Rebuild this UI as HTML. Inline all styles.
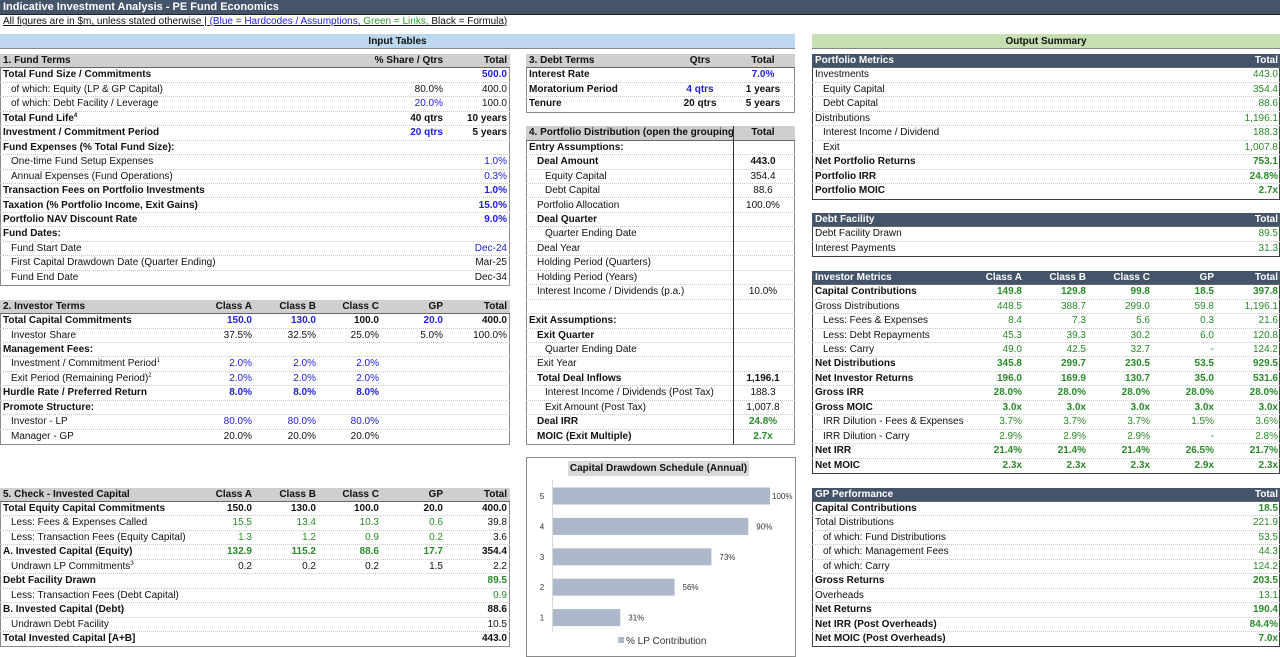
<!DOCTYPE html>
<html><head><meta charset="utf-8">
<style>
*{box-sizing:border-box;margin:0;padding:0}
body{width:1280px;height:648px;overflow:hidden;background:#fff;font-family:"Liberation Sans",sans-serif;font-size:10px;color:#111;position:relative}
.abs{position:absolute}
.cell{position:absolute;white-space:nowrap;line-height:14px;height:14px}
.row{position:absolute;border-bottom:1px dotted #c8c8c8}
.box{position:absolute}
.gray{border:1.5px solid #8a8a8a}
.dark{border:1px solid #404040}
sup{font-size:6px;vertical-align:top;line-height:8px}
</style></head>
<body>
<div class="abs" style="left:0;top:0;width:1280px;height:15px;background:#44546a;border-bottom:1px solid #222;color:#fff;font-weight:bold;font-size:11px;line-height:14px;padding-left:3px">Indicative Investment Analysis - PE Fund Economics</div>
<div class="abs" style="left:3px;top:15px;height:14px;line-height:14px;font-size:10px;text-decoration:underline;white-space:nowrap">All figures are in $m, unless stated otherwise | <span style="color:#2222dd">(Blue = Hardcodes / Assumptions,</span> <span style="color:#2a9a2a">Green = Links,</span> Black = Formula)</div>
<div class="abs" style="left:0;top:34px;width:795px;height:15px;background:#bdd7ee;border-bottom:1px solid #888;text-align:center;font-weight:bold;line-height:15px">Input Tables</div>
<div class="abs" style="left:812px;top:34px;width:468px;height:15px;background:#c6e0b4;border-bottom:1px solid #888;text-align:center;font-weight:bold;line-height:15px">Output Summary</div>

<div class="box gray" style="left:526px;top:457px;width:270px;height:200px"></div>
<div class="abs" style="left:568px;top:461px;width:181px;height:15px;background:#d9d9d9;font-weight:bold;text-align:center;line-height:15px">Capital Drawdown Schedule (Annual)</div>
<svg id="chart" class="abs" style="left:526px;top:476px" width="269" height="172"></svg>

<script>
const drawCategories=['5','4','3','2','1'];
const drawValues=[100,90,73,56,31];
const drawLabels=['100%','90%','73%','56%','31%'];

const R0=54,RH=14.45;
function rt(r){return R0+RH*r;}
const COL={b:'#2020dd',g:'#2a8a2a',k:'#111'};

function slug(s){return s.replace(/<[^>]*>/g,'').toLowerCase().replace(/[^a-z0-9]+/g,'-').replace(/^-|-$/g,'');}

function table(t){
  const box=document.createElement('div');
  box.className='box '+(t.dark?'dark':'gray');
  
  
  const nrows=t.rows.length+(t.rowStart-t.hr);
  box.style.cssText='left:'+t.x0+'px;top:'+rt(t.hr)+'px;width:'+(t.x1-t.x0)+'px;height:'+(RH*nrows+1)+'px';
  document.body.appendChild(box);
  const hd=document.createElement('div');
  hd.className='abs';
  
  
  hd.style.cssText='left:'+t.x0+'px;top:'+rt(t.hr)+'px;width:'+(t.x1-t.x0)+'px;height:'+RH+'px;background:'+(t.dark?'#44546a':'#d0cece')+';border-bottom:1px solid #666';
  document.body.appendChild(hd);
  const hl=document.createElement('div');
  hl.className='cell';
  
  
  hl.style.cssText='left:'+(t.x0+3)+'px;top:'+rt(t.hr)+'px;font-weight:bold;color:'+(t.dark?'#fff':'#111');
  hl.textContent=t.head[0];
  document.body.appendChild(hl);
  t.cols.forEach((c,i)=>{
    const h=document.createElement('div');
    h.className='cell';
    
    
    h.style.cssText=pos(c)+'top:'+rt(t.hr)+'px;font-weight:bold;color:'+(t.dark?'#fff':'#111');
    h.textContent=t.head[i+1];
    document.body.appendChild(h);
  });
  if(t.vsep){
    const v=document.createElement('div');
    v.className='abs';
    
    
    v.style.cssText='left:'+t.vsep+'px;top:'+rt(t.hr)+'px;width:1px;height:'+(RH*nrows)+'px;background:#333';
    document.body.appendChild(v);
  }
  t.rows.forEach((r,k)=>{
    const ri=t.rowStart+k;
    const rw=document.createElement('div');
    rw.className='row';
    
    
    rw.style.cssText='left:'+t.x0+'px;top:'+rt(ri)+'px;width:'+(t.x1-t.x0)+'px;height:'+RH+'px'+(k==t.rows.length-1?';border-bottom:none':'');
    document.body.appendChild(rw);
    const lb=document.createElement('div');
    lb.className='cell';
    
    
    lb.style.cssText='left:'+(t.x0+3+r[1]*8)+'px;top:'+rt(ri)+'px;font-weight:'+(r[2]?'bold':'normal');
    lb.innerHTML=r[0];
    document.body.appendChild(lb);
    for(let j=3;j<r.length;j++){
      let v=r[j]; if(!v) continue;
      let col='k';
      if(v[1]==':'){col=v[0];v=v.slice(2);}
      const c=t.cols[j-3];
      const vc=document.createElement('div');
      vc.className='cell';
      
      
      vc.style.cssText=pos(c)+'top:'+rt(ri)+'px;font-weight:'+(r[2]?'bold':'normal')+';color:'+COL[col];
      vc.textContent=v;
      document.body.appendChild(vc);
    }
  });
}
function pos(c){
  if(c.c) return 'left:'+(c.c-40)+'px;width:80px;text-align:center;';
  return 'left:'+(c.r-100)+'px;width:100px;text-align:right;';
}
const C5=[{r:252},{r:316},{r:379},{r:443},{r:507}];
const CR=[{r:1022},{r:1086},{r:1150},{r:1214},{r:1278}];

table({name:'fund-terms-table',x0:0,x1:510,hr:0,rowStart:1,head:['1. Fund Terms','% Share / Qtrs','Total'],cols:[{r:443},{r:507}],rows:[
['Total Fund Size / Commitments',0,1,'','b:500.0'],
['of which: Equity (LP &amp; GP Capital)',1,0,'80.0%','400.0'],
['of which: Debt Facility / Leverage',1,0,'b:20.0%','100.0'],
['Total Fund Life<sup>4</sup>',0,1,'40 qtrs','10 years'],
['Investment / Commitment Period',0,1,'b:20 qtrs','5 years'],
['Fund Expenses (% Total Fund Size):',0,1],
['One-time Fund Setup Expenses',1,0,'','b:1.0%'],
['Annual Expenses (Fund Operations)',1,0,'','b:0.3%'],
['Transaction Fees on Portfolio Investments',0,1,'','b:1.0%'],
['Taxation (% Portfolio Income, Exit Gains)',0,1,'','b:15.0%'],
['Portfolio NAV Discount Rate',0,1,'','b:9.0%'],
['Fund Dates:',0,1],
['Fund Start Date',1,0,'','b:Dec-24'],
['First Capital Drawdown Date (Quarter Ending)',1,0,'','Mar-25'],
['Fund End Date',1,0,'','Dec-34']]});

table({name:'investor-terms-table',x0:0,x1:510,hr:17,rowStart:18,head:['2. Investor Terms','Class A','Class B','Class C','GP','Total'],cols:C5,rows:[
['Total Capital Commitments',0,1,'b:150.0','b:130.0','100.0','b:20.0','400.0'],
['Investor Share',1,0,'37.5%','32.5%','25.0%','5.0%','100.0%'],
['Management Fees:',0,1],
['Investment / Commitment Period<sup>1</sup>',1,0,'b:2.0%','b:2.0%','b:2.0%'],
['Exit Period (Remaining Period)<sup>2</sup>',1,0,'b:2.0%','b:2.0%','b:2.0%'],
['Hurdle Rate / Preferred Return',0,1,'b:8.0%','b:8.0%','b:8.0%'],
['Promote Structure:',0,1],
['Investor - LP',1,0,'b:80.0%','b:80.0%','b:80.0%'],
['Manager - GP',1,0,'20.0%','20.0%','20.0%']]});

table({name:'check-invested-capital-table',x0:0,x1:510,hr:30,rowStart:31,head:['5. Check - Invested Capital','Class A','Class B','Class C','GP','Total'],cols:C5,rows:[
['Total Equity Capital Commitments',0,1,'150.0','130.0','100.0','20.0','400.0'],
['Less: Fees &amp; Expenses Called',1,0,'g:15.5','g:13.4','g:10.3','g:0.6','39.8'],
['Less: Transaction Fees (Equity Capital)',1,0,'g:1.3','g:1.2','g:0.9','g:0.2','3.6'],
['A. Invested Capital (Equity)',0,1,'g:132.9','g:115.2','g:88.6','g:17.7','354.4'],
['Undrawn LP Commitments<sup>3</sup>',1,0,'0.2','0.2','0.2','1.5','2.2'],
['Debt Facility Drawn',0,1,'','','','','g:89.5'],
['Less: Transaction Fees (Debt Capital)',1,0,'','','','','g:0.9'],
['B. Invested Capital (Debt)',0,1,'','','','','88.6'],
['Undrawn Debt Facility',1,0,'','','','','10.5'],
['Total Invested Capital [A+B]',0,1,'','','','','443.0']]});

table({name:'debt-terms-table',x0:526,x1:795,hr:0,rowStart:1,head:['3. Debt Terms','Qtrs','Total'],cols:[{c:700},{c:763}],rows:[
['Interest Rate',0,1,'','b:7.0%'],
['Moratorium Period',0,1,'b:4 qtrs','1 years'],
['Tenure',0,1,'20 qtrs','5 years']]});

table({name:'portfolio-distribution-table',x0:526,x1:795,hr:5,rowStart:6,vsep:733,head:['4. Portfolio Distribution (open the grouping','Total'],cols:[{c:763}],rows:[
['Entry Assumptions:',0,1],
['Deal Amount',1,1,'443.0'],
['Equity Capital',2,0,'354.4'],
['Debt Capital',2,0,'88.6'],
['Portfolio Allocation',1,0,'100.0%'],
['Deal Quarter',1,1],
['Quarter Ending Date',2,0],
['Deal Year',1,0],
['Holding Period (Quarters)',1,0],
['Holding Period (Years)',1,0],
['Interest Income / Dividends (p.a.)',1,0,'10.0%'],
['',0,0],
['Exit Assumptions:',0,1],
['Exit Quarter',1,1],
['Quarter Ending Date',2,0],
['Exit Year',1,0],
['Total Deal Inflows',1,1,'1,196.1'],
['Interest Income / Dividends (Post Tax)',2,0,'188.3'],
['Exit Amount (Post Tax)',2,0,'1,007.8'],
['Deal IRR',1,1,'g:24.8%'],
['MOIC (Exit Multiple)',1,1,'g:2.7x']]});

table({name:'portfolio-metrics-table',dark:1,x0:812,x1:1280,hr:0,rowStart:1,head:['Portfolio Metrics','Total'],cols:[{r:1278}],rows:[
['Investments',0,0,'g:443.0'],
['Equity Capital',1,0,'g:354.4'],
['Debt Capital',1,0,'g:88.6'],
['Distributions',0,0,'g:1,196.1'],
['Interest Income / Dividend',1,0,'g:188.3'],
['Exit',1,0,'g:1,007.8'],
['Net Portfolio Returns',0,1,'g:753.1'],
['Portfolio IRR',0,1,'g:24.8%'],
['Portfolio MOIC',0,1,'g:2.7x']]});

table({name:'debt-facility-table',dark:1,x0:812,x1:1280,hr:11,rowStart:12,head:['Debt Facility','Total'],cols:[{r:1278}],rows:[
['Debt Facility Drawn',0,0,'g:89.5'],
['Interest Payments',0,0,'g:31.3']]});

table({name:'investor-metrics-table',dark:1,x0:812,x1:1280,hr:15,rowStart:16,head:['Investor Metrics','Class A','Class B','Class C','GP','Total'],cols:CR,rows:[
['Capital Contributions',0,1,'g:149.8','g:129.8','g:99.8','g:18.5','g:397.8'],
['Gross Distributions',0,0,'g:448.5','g:388.7','g:299.0','g:59.8','g:1,196.1'],
['Less: Fees &amp; Expenses',1,0,'g:8.4','g:7.3','g:5.6','g:0.3','g:21.6'],
['Less: Debt Repayments',1,0,'g:45.3','g:39.3','g:30.2','g:6.0','g:120.8'],
['Less: Carry',1,0,'g:49.0','g:42.5','g:32.7','g:-','g:124.2'],
['Net Distributions',0,1,'g:345.8','g:299.7','g:230.5','g:53.5','g:929.5'],
['Net Investor Returns',0,1,'g:196.0','g:169.9','g:130.7','g:35.0','g:531.6'],
['Gross IRR',0,1,'g:28.0%','g:28.0%','g:28.0%','g:28.0%','g:28.0%'],
['Gross MOIC',0,1,'g:3.0x','g:3.0x','g:3.0x','g:3.0x','g:3.0x'],
['IRR Dilution - Fees &amp; Expenses',1,0,'g:3.7%','g:3.7%','g:3.7%','g:1.5%','g:3.6%'],
['IRR Dilution - Carry',1,0,'g:2.9%','g:2.9%','g:2.9%','g:-','g:2.8%'],
['Net IRR',0,1,'g:21.4%','g:21.4%','g:21.4%','g:26.5%','g:21.7%'],
['Net MOIC',0,1,'g:2.3x','g:2.3x','g:2.3x','g:2.9x','g:2.3x']]});

table({name:'gp-performance-table',dark:1,x0:812,x1:1280,hr:30,rowStart:31,head:['GP Performance','Total'],cols:[{r:1278}],rows:[
['Capital Contributions',0,1,'g:18.5'],
['Total Distributions',0,0,'g:221.9'],
['of which: Fund Distributions',1,0,'g:53.5'],
['of which: Management Fees',1,0,'g:44.3'],
['of which: Carry',1,0,'g:124.2'],
['Gross Returns',0,1,'g:203.5'],
['Overheads',0,0,'g:13.1'],
['Net Returns',0,1,'g:190.4'],
['Net IRR (Post Overheads)',0,1,'g:84.4%'],
['Net MOIC (Post Overheads)',0,1,'g:7.0x']]});

// chart
const NS='http://www.w3.org/2000/svg';
const svg=document.getElementById('chart');
const X0=27,XW=217;
function xs(v){return X0+v/100*XW;}
function ys(i){return 20+i*30.4;}
const ax=document.createElementNS(NS,'line');


ax.setAttribute('x1',X0-0.5);ax.setAttribute('x2',X0-0.5);ax.setAttribute('y1',4);ax.setAttribute('y2',156);
ax.setAttribute('stroke','#d9d9d9');
svg.appendChild(ax);
drawCategories.forEach((cat,i)=>{
  const r=document.createElementNS(NS,'rect');
  
  
  r.setAttribute('x',X0);r.setAttribute('y',ys(i)-8.5);r.setAttribute('width',xs(drawValues[i])-X0);r.setAttribute('height',17);
  r.setAttribute('fill','#adb9ca');
  svg.appendChild(r);
  const t=document.createElementNS(NS,'text');
  
  
  t.setAttribute('x',16);t.setAttribute('y',ys(i)+3);t.setAttribute('font-size','8');t.setAttribute('fill','#333');t.setAttribute('text-anchor','middle');
  t.textContent=cat;
  svg.appendChild(t);
  const l=document.createElementNS(NS,'text');
  
  
  l.setAttribute('x',xs(drawValues[i])+(drawValues[i]>=100?2:8));l.setAttribute('y',ys(i)+3);l.setAttribute('font-size','8');l.setAttribute('fill','#333');
  l.textContent=drawLabels[i];
  svg.appendChild(l);
});
const lg=document.createElementNS(NS,'rect');


lg.setAttribute('x',92);lg.setAttribute('y',161);lg.setAttribute('width',6);lg.setAttribute('height',6);lg.setAttribute('fill','#adb9ca');
svg.appendChild(lg);
const lt=document.createElementNS(NS,'text');


lt.setAttribute('x',100);lt.setAttribute('y',168);lt.setAttribute('font-size','10');lt.setAttribute('fill','#333');
lt.textContent='% LP Contribution';
svg.appendChild(lt);
</script>
</body></html>
